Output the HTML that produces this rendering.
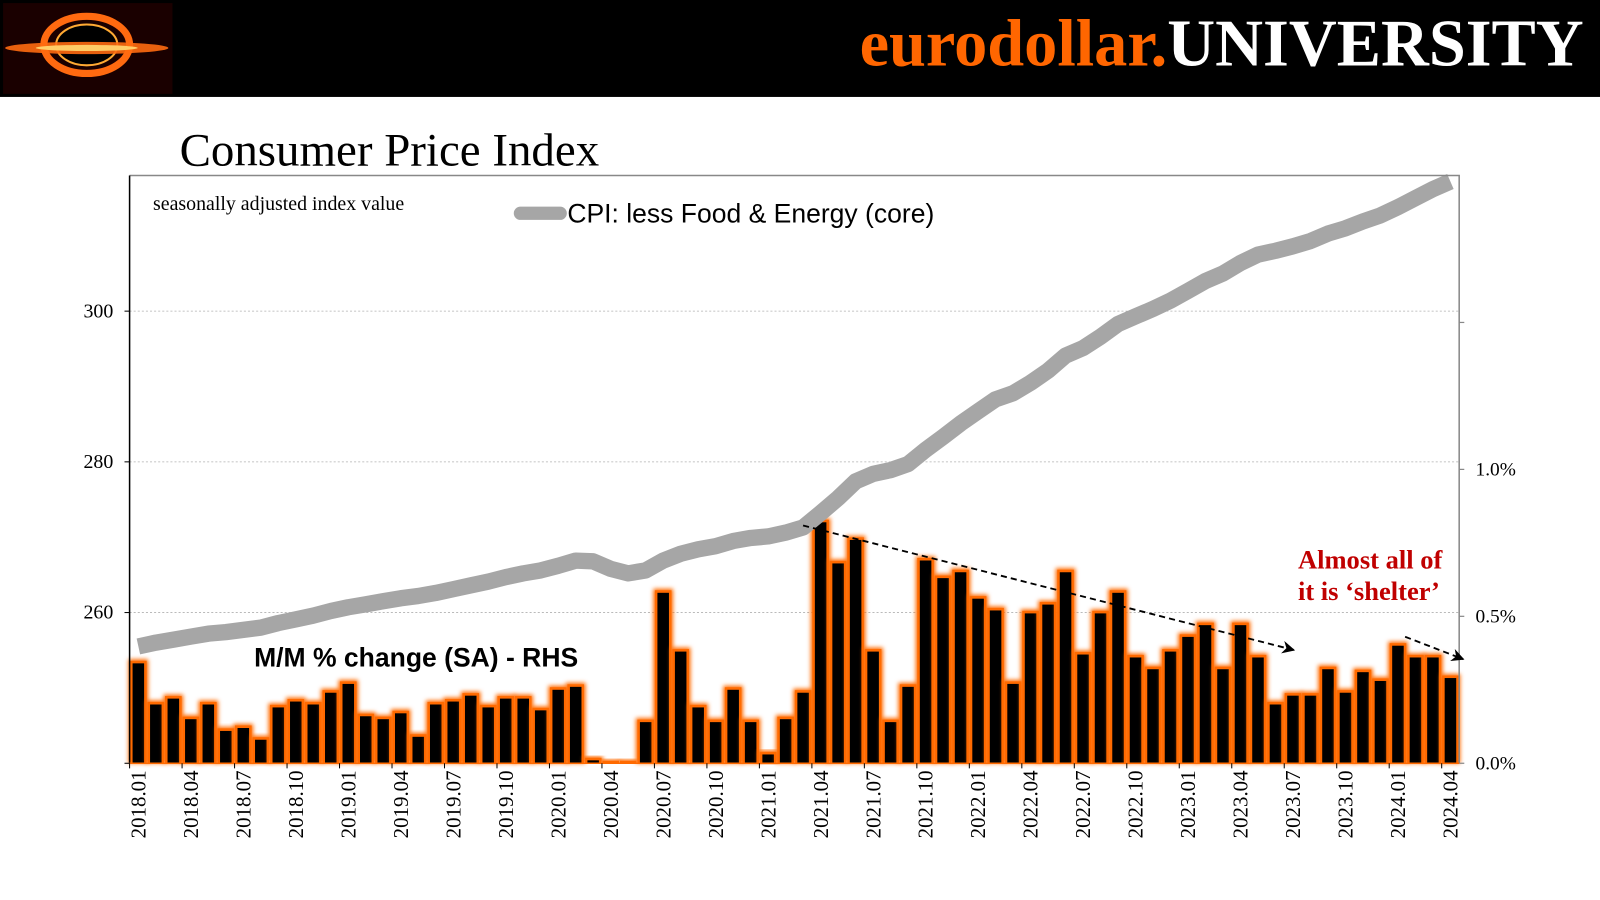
<!DOCTYPE html>
<html><head><meta charset="utf-8"><style>
html,body{margin:0;padding:0;background:#fff;}
svg{display:block;}
</style></head><body>
<svg width="1600" height="900" viewBox="0 0 1568 882" xmlns="http://www.w3.org/2000/svg">
<defs>
<filter id="glow" x="-60%" y="-10%" width="220%" height="120%"><feGaussianBlur stdDeviation="2"/></filter>
<marker id="arrow" viewBox="0 0 10 10" refX="9" refY="5" markerWidth="7" markerHeight="7" orient="auto"><path d="M0,0 L10,5 L0,10 L3,5 z" fill="#000"/></marker>
</defs>
<rect x="0" y="0" width="1568" height="95" fill="#000"/>
<g>
<rect x="3" y="3" width="166" height="89" fill="#1a0000"/>
<ellipse cx="85" cy="44" rx="42" ry="28" fill="none" stroke="#ff6a10" stroke-width="7"/>
<ellipse cx="85" cy="44" rx="30" ry="20" fill="#000" stroke="#ffaa33" stroke-width="2"/>
<ellipse cx="85" cy="47" rx="80" ry="6" fill="#ff6a10" opacity="0.9"/>
<ellipse cx="85" cy="47" rx="50" ry="3" fill="#ffcc66"/>
</g>
<text x="1552" y="64" text-anchor="end" font-family="Liberation Serif, serif" font-weight="bold" font-size="65"><tspan fill="#ff6600">eurodollar.</tspan><tspan fill="#fff">UNIVERSITY</tspan></text>
<text x="176" y="162" font-family="Liberation Serif, serif" font-size="46" fill="#000">Consumer Price Index</text>
<text x="150" y="206" font-family="Liberation Serif, serif" font-size="19.5" fill="#000">seasonally adjusted index value</text>
<line x1="510" y1="209" x2="549" y2="209" stroke="#a6a6a6" stroke-width="13" stroke-linecap="round"/>
<text x="556" y="218" font-family="Liberation Sans, sans-serif" font-size="26" fill="#000">CPI: less Food &amp; Energy (core)</text>
<g id="grid"></g>
<g id="bars"></g>
<g id="line"></g>
<g id="axes"></g>
<text x="249" y="653" font-family="Liberation Sans, sans-serif" font-weight="bold" font-size="26" fill="#000">M/M % change (SA) - RHS</text>
<text font-family="Liberation Serif, serif" font-weight="bold" font-size="26" fill="#c00000"><tspan x="1272" y="557">Almost all of</tspan><tspan x="1272" y="588">it is ‘shelter’</tspan></text>
<line x1="787" y1="515" x2="1268" y2="637" stroke="#000" stroke-width="1.8" stroke-dasharray="6,4" marker-end="url(#arrow)"/>
<line x1="1377" y1="624" x2="1434" y2="646" stroke="#000" stroke-width="1.8" stroke-dasharray="6,4" marker-end="url(#arrow)"/>
</svg>
<script>
const months=["2018.01","2018.02","2018.03","2018.04","2018.05","2018.06","2018.07","2018.08","2018.09","2018.10","2018.11","2018.12",
"2019.01","2019.02","2019.03","2019.04","2019.05","2019.06","2019.07","2019.08","2019.09","2019.10","2019.11","2019.12",
"2020.01","2020.02","2020.03","2020.04","2020.05","2020.06","2020.07","2020.08","2020.09","2020.10","2020.11","2020.12",
"2021.01","2021.02","2021.03","2021.04","2021.05","2021.06","2021.07","2021.08","2021.09","2021.10","2021.11","2021.12",
"2022.01","2022.02","2022.03","2022.04","2022.05","2022.06","2022.07","2022.08","2022.09","2022.10","2022.11","2022.12",
"2023.01","2023.02","2023.03","2023.04","2023.05","2023.06","2023.07","2023.08","2023.09","2023.10","2023.11","2023.12",
"2024.01","2024.02","2024.03","2024.04"];
const cpiIndex=[255.5,256.0,256.4,256.8,257.2,257.4,257.7,258.0,258.6,259.1,259.6,260.2,
260.7,261.1,261.5,261.9,262.2,262.6,263.1,263.6,264.1,264.7,265.2,265.6,
266.2,266.9,266.8,265.8,265.2,265.6,266.9,267.8,268.4,268.8,269.5,269.9,
270.1,270.6,271.3,273.2,275.2,277.4,278.4,278.9,279.7,281.6,283.3,285.1,
286.7,288.3,289.1,290.5,292.1,294.1,295.1,296.6,298.3,299.3,300.3,301.4,
302.7,304.0,305.0,306.4,307.5,308.0,308.6,309.3,310.3,311.0,311.9,312.7,
313.8,315.0,316.2,317.2];
const momChange=[0.34,0.20,0.22,0.15,0.20,0.11,0.12,0.08,0.19,0.21,0.20,0.24,
0.27,0.16,0.15,0.17,0.09,0.20,0.21,0.23,0.19,0.22,0.22,0.18,
0.25,0.26,0.01,0,0,0.14,0.58,0.38,0.19,0.14,0.25,0.14,
0.03,0.15,0.24,0.82,0.68,0.76,0.38,0.14,0.26,0.69,0.63,0.65,
0.56,0.52,0.27,0.51,0.54,0.65,0.37,0.51,0.58,0.36,0.32,0.38,
0.43,0.47,0.32,0.47,0.36,0.20,0.23,0.23,0.32,0.24,0.31,0.28,
0.40,0.36,0.36,0.29];
const leftTicks=[240,260,280,300];
const rightTicks=[0,0.5,1.0,1.5];
const rightTickLabels=["0.0%","0.5%","1.0%",""];

const NS="http://www.w3.org/2000/svg";
const X0=127,X1=1430,Y0=172,Y1=748;
const band=(X1-X0)/months.length;
const xc=i=>X0+band*(i+0.5);
const yL=v=>Y1-(v-240)/(318-240)*(Y1-Y0);
const yR=v=>Y1-v/2.0*(Y1-Y0);
function mk(tag,attrs,parent){const e=document.createElementNS(NS,tag);for(const k in attrs)e.setAttribute(k,attrs[k]);parent.appendChild(e);return e;}
const grid=document.getElementById('grid'),bars=document.getElementById('bars'),line=document.getElementById('line'),axes=document.getElementById('axes');

leftTicks.forEach(t=>{
  const y=yL(t);
  if(t>240){const g=mk('line',{x1:X0,x2:X1,y1:y,y2:y,stroke:'#b0b0b0','stroke-width':0.8,'stroke-dasharray':'2,2'},grid);
  
  }
  const tk=mk('line',{x1:X0-5,x2:X0,y1:y,y2:y,stroke:'#000','stroke-width':1},axes);
  
  
  if(t>240){const tx=mk('text',{x:111,y:y+6,'text-anchor':'end','font-family':'Liberation Serif, serif','font-size':19.5,fill:'#000'},axes);
  tx.textContent=t;
  
  }
});
rightTicks.forEach((t,i)=>{
  const y=yR(t);
  const tk=mk('line',{x1:X1,x2:X1+5,y1:y,y2:y,stroke:'#888','stroke-width':1.2},axes);
  
  
  if(rightTickLabels[i]){const tx=mk('text',{x:1446,y:y+6,'font-family':'Liberation Serif, serif','font-size':19,fill:'#000'},axes);
  tx.textContent=rightTickLabels[i];
  
  }
});

const bw=band*0.66;
momChange.forEach((v,i)=>{
  const y=yR(v),h=Y1-y;
  const g=mk('rect',{x:xc(i)-bw/2-4,y:y-4,width:bw+8,height:h+4,fill:'#ff6a00',filter:'url(#glow)'},bars);
  
  
  const g2=mk('rect',{x:xc(i)-bw/2-2.5,y:y-2.5,width:bw+5,height:h+2.5,fill:'#ff6a00'},bars);
  
  
  const r=mk('rect',{x:xc(i)-bw/2,y:y,width:bw,height:h,fill:'#000'},bars);
  
  
});

const pts=cpiIndex.map((v,i)=>xc(i).toFixed(1)+','+yL(v).toFixed(1)).join(' ');
const pl=mk('polyline',{points:pts,fill:'none',stroke:'#a6a6a6','stroke-width':16,'stroke-linejoin':'round'},line);



const fr=mk('path',{d:`M${X0},${Y0} H${X1} V${Y1}`,fill:'none',stroke:'#888','stroke-width':1.5},axes);


const la=mk('line',{x1:X0,x2:X0,y1:Y0,y2:Y1,stroke:'#000','stroke-width':1.5},axes);


const xa=mk('line',{x1:X0,x2:X1,y1:Y1,y2:Y1,stroke:'#ff6a00','stroke-width':1.5},axes);



months.forEach((m,i)=>{
  if(i%3!==0)return;
  const bx=X0+band*i;
  const tk=mk('line',{x1:bx,x2:bx,y1:Y1,y2:Y1+5,stroke:'#000','stroke-width':1},axes);
  
  
  const x=xc(i)+7;
  const tx=mk('text',{x:x,y:755,transform:`rotate(-90 ${x} 755)`,'text-anchor':'end','font-family':'Liberation Serif, serif','font-size':20.5,fill:'#000'},axes);
  tx.textContent=m;
  
  
});
</script>
</body></html>
